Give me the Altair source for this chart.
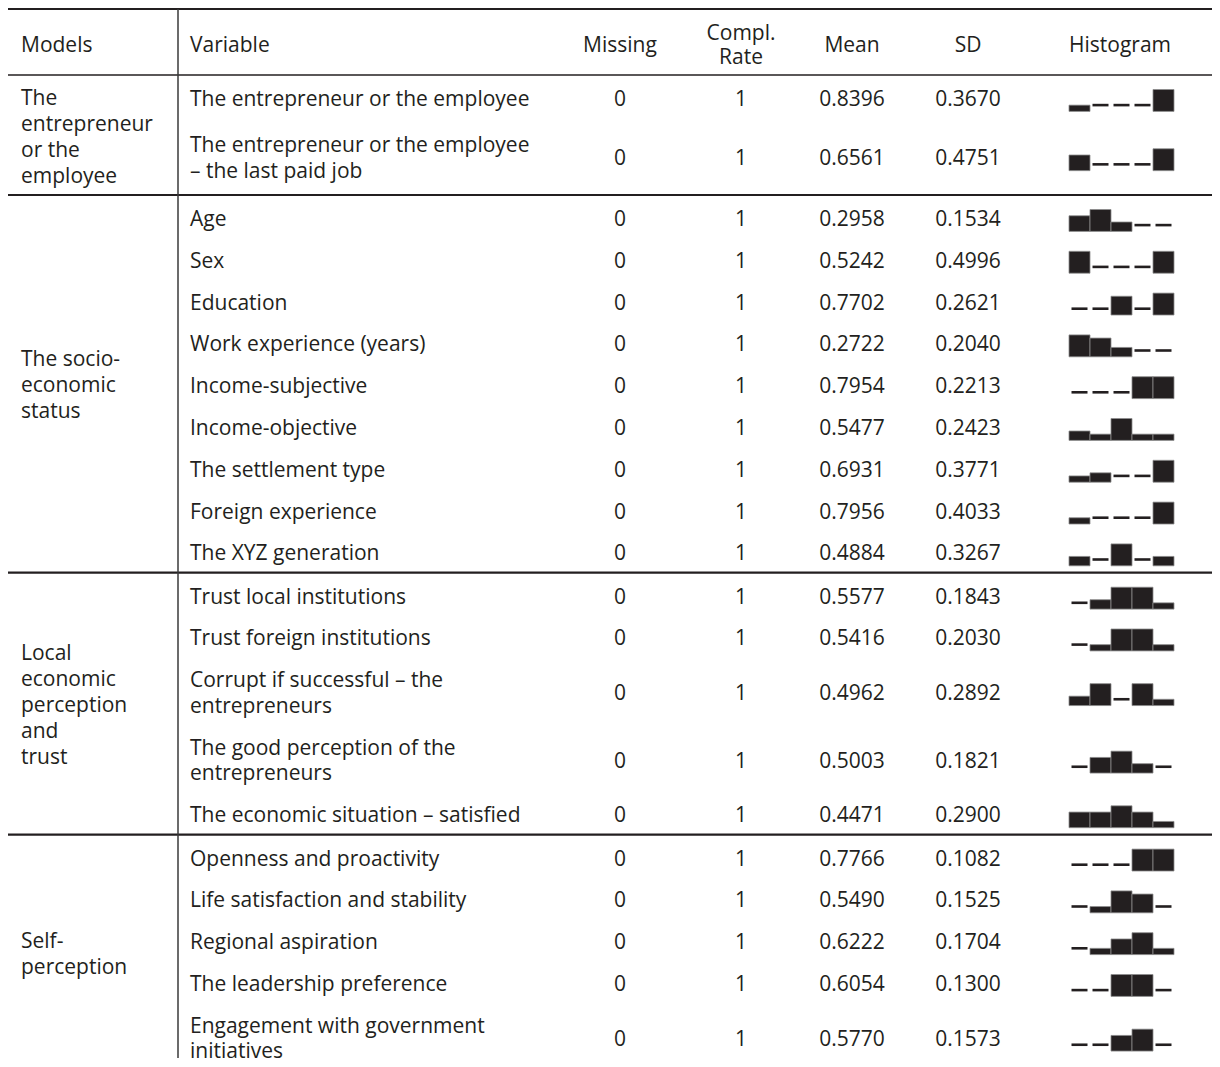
import altair as alt
import pandas as pd

# ---------------- data ----------------
models = ["The\nentrepreneur\nor the\nemployee",
          "The socio-\neconomic\nstatus",
          "Local\neconomic\nperception\nand\ntrust",
          "Self-\nperception"]
section_sizes = [2, 9, 5, 5]

variables = [
    "The entrepreneur or the employee",
    "The entrepreneur or the employee\n– the last paid job",
    "Age", "Sex", "Education", "Work experience (years)", "Income-subjective",
    "Income-objective", "The settlement type", "Foreign experience", "The XYZ generation",
    "Trust local institutions", "Trust foreign institutions",
    "Corrupt if successful – the\nentrepreneurs",
    "The good perception of the\nentrepreneurs",
    "The economic situation – satisfied",
    "Openness and proactivity", "Life satisfaction and stability", "Regional aspiration",
    "The leadership preference", "Engagement with government\ninitiatives",
]
missing = [0, 0, 0, 0, 0, 0, 0, 0, 0, 0, 0, 0, 0, 0, 0, 0, 0, 0, 0, 0, 0]
compl_rate = [1, 1, 1, 1, 1, 1, 1, 1, 1, 1, 1, 1, 1, 1, 1, 1, 1, 1, 1, 1, 1]
means = [0.8396, 0.6561, 0.2958, 0.5242, 0.7702, 0.2722, 0.7954, 0.5477, 0.6931, 0.7956,
         0.4884, 0.5577, 0.5416, 0.4962, 0.5003, 0.4471, 0.7766, 0.5490, 0.6222, 0.6054, 0.5770]
sds = [0.3670, 0.4751, 0.1534, 0.4996, 0.2621, 0.2040, 0.2213, 0.2423, 0.3771, 0.4033,
       0.3267, 0.1843, 0.2030, 0.2892, 0.1821, 0.2900, 0.1082, 0.1525, 0.1704, 0.1300, 0.1573]
# spark-histogram levels in eighths (0 = empty bin, drawn as a dash)
hists = [
    [2, 0, 0, 0, 7], [5, 0, 0, 0, 7],
    [5, 7, 3, 0, 0], [7, 0, 0, 0, 7], [0, 0, 6, 0, 7], [7, 6, 3, 0, 0], [0, 0, 0, 7, 7],
    [3, 2, 7, 2, 2], [2, 3, 0, 0, 7], [2, 0, 0, 0, 7], [3, 0, 7, 0, 3],
    [0, 3, 7, 7, 2], [0, 2, 7, 7, 2], [3, 7, 0, 7, 2], [0, 5, 7, 3, 0], [5, 5, 7, 5, 2],
    [0, 0, 0, 7, 7], [0, 2, 7, 6, 0], [0, 2, 5, 7, 2], [0, 0, 7, 7, 0], [0, 0, 5, 7, 0],
]
headers = ["Models", "Variable", "Missing", "Compl.\nRate", "Mean", "SD", "Histogram"]

# ---------------- layout ----------------
W, H = 1204, 1050
FONT = "Open Sans"
FS = 21
INK = "#231f20"
col_x = [13, 182, 612, 733, 844, 960, 1112]
col_align = ["left", "left", "center", "center", "center", "center", "center"]
head_line = 67
hist_x0, bin_w = 1061, 21.0
em = 25.0
LH_ROW, LH_MODEL, LH_HEAD = 25.7, 26.0, 24.0
DY = 2.5


def row_h(n):
    return 41.8 + (n - 1) * 25.7


def first_line_y(center, text, lh):
    return center - text.count("\n") * lh / 2


text_rows, bars, dashes, hlines, model_rows = [], [], [], [], []
y_line = head_line
idx = 0
for s, size in enumerate(section_sizes):
    hlines.append(dict(x=0, x2=W, y=y_line, w=1.6 if s == 0 else 2.2))
    start = y_line + 1.5
    hs = [row_h(variables[i].count("\n") + 1) for i in range(idx, idx + size)]
    min_h = 16 + 26 * (models[s].count("\n") + 1)
    if 1.5 + sum(hs) < min_h:
        hs[-1] += min_h - 1.5 - sum(hs)
    y = start
    for k, i in enumerate(range(idx, idx + size)):
        c = y + hs[k] / 2
        text_rows.append(dict(x=col_x[1], y=first_line_y(c, variables[i], LH_ROW), t=variables[i], a="left"))
        text_rows.append(dict(x=col_x[2], y=c, t=str(missing[i]), a="center"))
        text_rows.append(dict(x=col_x[3], y=c, t=str(compl_rate[i]), a="center"))
        text_rows.append(dict(x=col_x[4], y=c, t=f"{means[i]:.4f}", a="center"))
        text_rows.append(dict(x=col_x[5], y=c, t=f"{sds[i]:.4f}", a="center"))
        base = c + 14
        for b, lv in enumerate(hists[i]):
            bx = hist_x0 + b * bin_w
            if lv > 0:
                bars.append(dict(x=bx, x2=bx + bin_w, y=base - lv / 8 * em, y2=base))
            else:
                cx = bx + bin_w / 2
                dashes.append(dict(x=cx - 8, x2=cx + 8, y=base - 6.3))
        y += hs[k]
    mc = (y_line + y) / 2
    model_rows.append(dict(x=col_x[0], y=first_line_y(mc, models[s], LH_MODEL), t=models[s], a="left"))
    y_line = y
    idx += size

hlines.append(dict(x=0, x2=W, y=1, w=2.0))
header_rows = [dict(x=col_x[j], y=first_line_y(35, headers[j], LH_HEAD), t=headers[j], a=col_align[j])
               for j in range(len(headers))]

xs = alt.Scale(domain=[0, W], nice=False, zero=False)
ys = alt.Scale(domain=[0, H], nice=False, zero=False, reverse=True)
X = lambda f="x": alt.X(f"{f}:Q", scale=xs, axis=None)
Y = lambda f="y": alt.Y(f"{f}:Q", scale=ys, axis=None)

layers = []
for hl in hlines:
    layers.append(alt.Chart(pd.DataFrame([hl])).mark_rule(color=INK, strokeWidth=hl["w"]).encode(
        x=X(), x2="x2:Q", y=Y()))
layers.append(alt.Chart(pd.DataFrame([dict(x=170, y=1, y2=H)])).mark_rule(color="#3a3a3a", strokeWidth=1.5).encode(
    x=X(), y=Y(), y2="y2:Q"))

layers.append(alt.Chart(pd.DataFrame(bars)).mark_rect(fill=INK, stroke="#8c8c8c", strokeWidth=0.8).encode(
    x=X(), x2="x2:Q", y=Y(), y2="y2:Q"))
layers.append(alt.Chart(pd.DataFrame(dashes)).mark_rule(color=INK, strokeWidth=2.6).encode(
    x=X(), x2="x2:Q", y=Y()))

for rows, lh in ((text_rows, LH_ROW), (model_rows, LH_MODEL), (header_rows, LH_HEAD)):
    df = pd.DataFrame(rows)
    for a in ("left", "center"):
        sub = df[df.a == a]
        if len(sub) == 0:
            continue
        layers.append(alt.Chart(sub).mark_text(
            align=a, baseline="middle", font=FONT, fontSize=FS, color=INK, dy=DY,
            lineBreak="\n", lineHeight=lh).encode(x=X(), y=Y(), text="t:N"))

chart = alt.layer(*layers).properties(
    width=W, height=H, padding=0, autosize=alt.AutoSizeParams(type="none")
).configure_view(stroke=None)

chart.save("out.html", embed_options={"renderer": "svg", "actions": False})
